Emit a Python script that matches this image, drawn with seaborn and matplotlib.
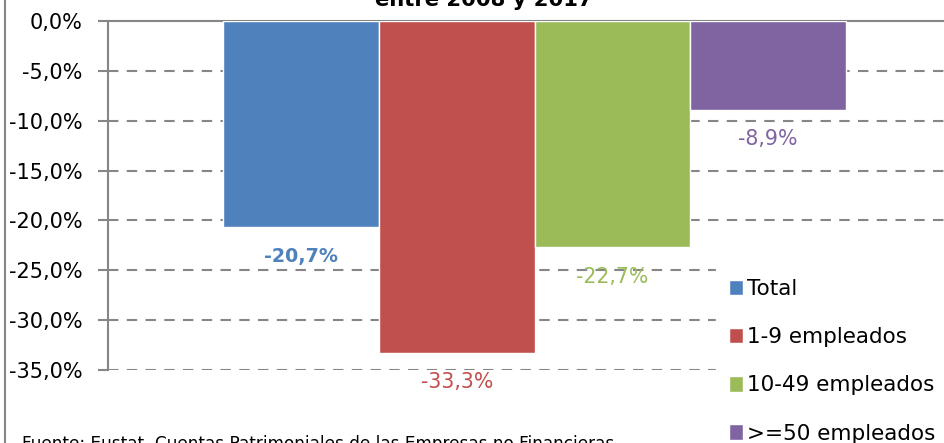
import pandas as pd
import matplotlib.pyplot as plt
import seaborn as sns
from matplotlib.lines import Line2D

# Datos
series = ['Total', '1-9 empleados', '10-49 empleados', '>=50 empleados']
valores = [-20.7, -33.3, -22.7, -8.9]
colores = ['#4F81BD', '#C0504D', '#9BBB59', '#8064A2']
etiquetas = ['-20,7%', '-33,3%', '-22,7%', '-8,9%']
ticks_y = [0, -5, -10, -15, -20, -25, -30, -35]

df = pd.DataFrame({'grupo': [''] * len(series), 'serie': series, 'valor': valores})

sns.set_style('white')
plt.rcParams['font.family'] = ['DejaVu Sans']
plt.rcParams['text.color'] = 'black'

fig = plt.figure(figsize=(9.44, 4.43), dpi=100)
ax = fig.add_axes([108 / 944, 1 - 370 / 443, 1 - 108 / 944, (370 - 21) / 443])

sns.barplot(data=df, x='grupo', y='valor', hue='serie', palette=colores,
            width=0.8, saturation=1, ax=ax, zorder=3, legend=True)

ax.set_ylim(-35, 0)
ax.set_xlim(-0.548, 0.526)
ax.set_yticks(ticks_y)
ax.set_yticklabels([f'{t:.1f}%'.replace('.', ',') for t in ticks_y], fontsize=15)
ax.set_xticks([])
ax.set_xlabel('')
ax.set_ylabel('')

# rejilla discontinua
for t in ticks_y[1:]:
    ax.axhline(t, color='#868686', lw=1.5, ls=(0, (5, 4)), zorder=1)

for s in ['right', 'bottom']:
    ax.spines[s].set_visible(False)
ax.spines['left'].set_color('#868686')
ax.spines['left'].set_linewidth(1.5)
ax.spines['top'].set_color('#868686')
ax.spines['top'].set_linewidth(1.5)
ax.tick_params(axis='y', which='major', left=True, length=7.2, width=1.5,
               color='#868686', pad=11, labelcolor='black')

# etiquetas de datos
for i, cont in enumerate(ax.containers):
    for bar in cont:
        ax.annotate(etiquetas[i], (bar.get_x() + bar.get_width() / 2, bar.get_height()),
                    xytext=(0, -21), textcoords='offset points', ha='center', va='center',
                    color=colores[i], fontsize=13.7 if i == 0 else 14.8,
                    fontweight='bold' if i == 0 else 'normal', zorder=5)

leg = ax.legend(loc='upper left', bbox_to_anchor=(716 / 944, 1 - 266 / 443),
                bbox_transform=fig.transFigure, fontsize=15.5, frameon=True,
                facecolor='white', edgecolor='white', framealpha=1,
                handlelength=0.65, handleheight=0.75, handletextpad=0.2,
                labelspacing=1.31, borderaxespad=0, borderpad=0.6)
leg.set_zorder(6)
for txt in leg.get_texts():
    txt.set_color('black')

# título (recortado) y fuente
fig.text(484 / 944, 1 - 6 / 443, 'entre 2008 y 2017', ha='center', va='baseline',
         fontsize=15.2, fontweight='bold', color='black')
fig.text(22 / 944, 1 - 435 / 443,
         'Fuente: Eustat. Cuentas Patrimoniales de las Empresas no Financieras',
         ha='left', va='top', fontsize=12.2, color='black')

fig.add_artist(Line2D([4.5 / 944, 4.5 / 944], [0, 1], color='#868686', lw=1.5,
                      transform=fig.transFigure))

fig.savefig('out.png', dpi=100)
